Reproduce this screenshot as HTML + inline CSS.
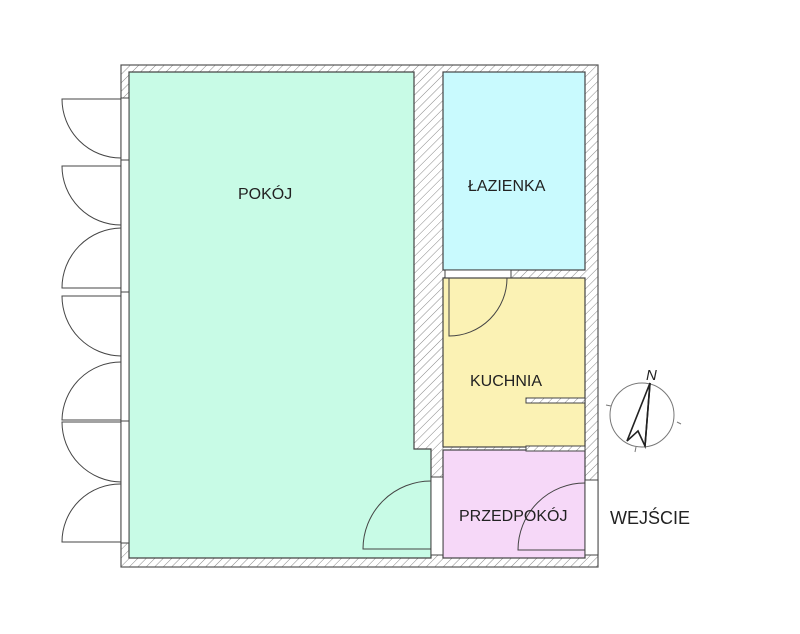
<!DOCTYPE html>
<html><head><meta charset="utf-8"><style>
html,body{margin:0;padding:0;background:#fff;}
svg{display:block;}
text{font-family:"Liberation Sans",sans-serif;font-size:16px;fill:#222;}
</style></head><body>
<svg width="800" height="634" viewBox="0 0 800 634" xmlns="http://www.w3.org/2000/svg">
<defs>
<pattern id="h" width="6" height="6" patternUnits="userSpaceOnUse" patternTransform="rotate(45)">
<rect width="6" height="6" fill="#fff"/><line x1="0" y1="0" x2="0" y2="6" stroke="#888" stroke-width="1"/>
</pattern>
</defs>
<rect x="121" y="65" width="477" height="502" fill="url(#h)" stroke="#555" stroke-width="1.2"/>
<path d="M129 72 H414 V449 H431 V558 H129 Z" fill="#c8fbe6" stroke="#444" stroke-width="1.2"/>
<rect x="443" y="72" width="142" height="198" fill="#c9fafe" stroke="#444" stroke-width="1.2"/>
<rect x="445" y="270" width="66" height="8" fill="#fff" stroke="#444" stroke-width="1"/>
<rect x="443" y="278" width="142" height="169" fill="#fbf2b4" stroke="#444" stroke-width="1.2"/>
<rect x="443" y="450" width="142" height="108" fill="#f6d8f8" stroke="#444" stroke-width="1.2"/>
<rect x="526" y="398" width="59" height="5" fill="url(#h)" stroke="#444" stroke-width="1"/>
<rect x="526" y="446" width="59" height="5" fill="url(#h)" stroke="#444" stroke-width="1"/>
<rect x="431" y="477" width="12" height="78" fill="#fff" stroke="#444" stroke-width="1"/>
<rect x="585" y="480" width="13" height="75" fill="#fff" stroke="#444" stroke-width="1"/>
<rect x="121" y="98" width="8" height="445" fill="#fff" stroke="#444" stroke-width="1"/>
<g fill="none" stroke="#444" stroke-width="1">
<path d="M431 481 A68 68 0 0 0 363 549 H431"/>
<path d="M585 483 A67 67 0 0 0 518 550 H585"/>
<path d="M449 278 V336 A58 58 0 0 0 507 278"/>
<path d="M121 99 H62 A59 59 0 0 0 121 158"/>
<path d="M121 166 H62 A59 59 0 0 0 121 225"/>
<path d="M121 228 A60 60 0 0 0 62 288 H121"/>
<path d="M121 296 H62 A60 60 0 0 0 121 356"/>
<path d="M121 362 A59 59 0 0 0 62 420 H121"/>
<path d="M121 422 H62 A60 60 0 0 0 121 482"/>
<path d="M121 484 A58 58 0 0 0 62 542 H121"/>
<line x1="121" y1="160" x2="129" y2="160"/><line x1="121" y1="292" x2="129" y2="292"/><line x1="121" y1="421" x2="129" y2="421"/>
<circle cx="642" cy="415" r="32" stroke="#777"/>
<path d="M650 383 L627 441 L638 431 L645 446 Z" stroke="#222" stroke-width="1.6"/>
<line x1="650" y1="383" x2="645" y2="446" stroke="#222" stroke-width="1.6"/>
<line x1="606" y1="405" x2="611" y2="406" stroke="#777"/>
<line x1="677" y1="422" x2="681" y2="424" stroke="#777"/>
<line x1="636" y1="447" x2="635" y2="452" stroke="#777"/>
</g>
<text x="646" y="380" style="font-size:15px;font-style:italic">N</text>
<text x="238" y="199">POKÓJ</text>
<text x="468" y="191">ŁAZIENKA</text>
<text x="470" y="386">KUCHNIA</text>
<text x="459" y="521">PRZEDPOKÓJ</text>
<text x="610" y="524" style="font-size:18px">WEJŚCIE</text>
</svg>
</body></html>
